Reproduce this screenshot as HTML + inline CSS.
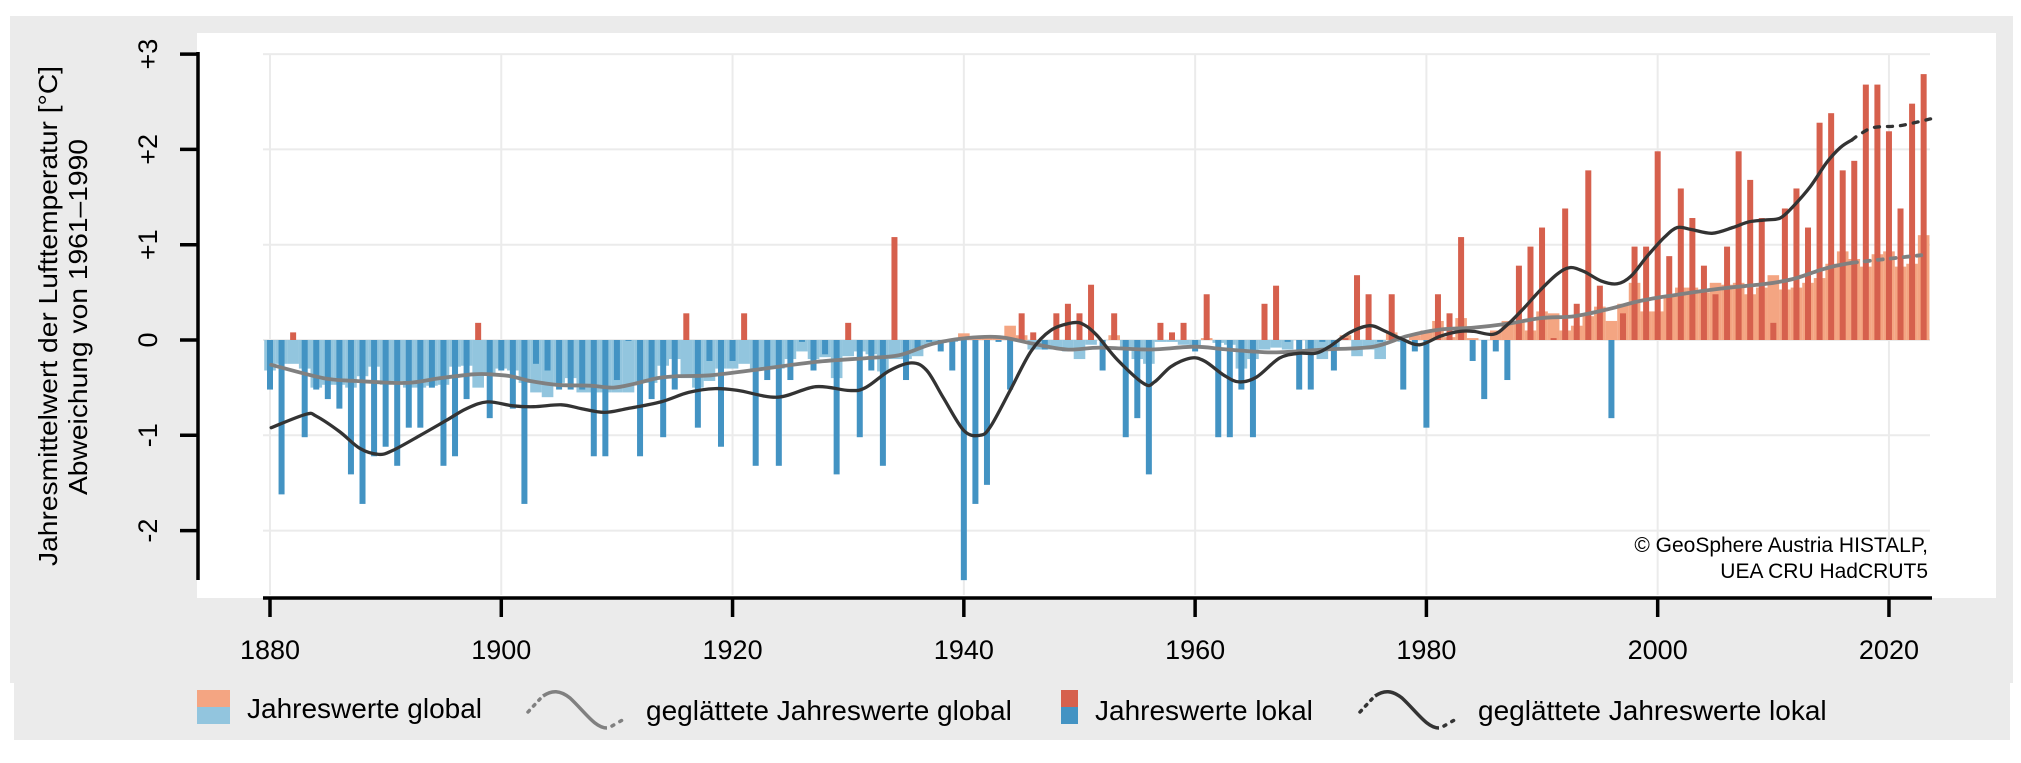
<!DOCTYPE html>
<html><head><meta charset="utf-8">
<style>
html,body{margin:0;padding:0;background:#fff;}
svg{display:block;font-family:"Liberation Sans",Arial,sans-serif;}
</style></head>
<body>
<svg id="c" width="2021" height="763" viewBox="0 0 2021 763" xmlns="http://www.w3.org/2000/svg">
<rect x="10" y="16" width="2003" height="667" fill="#ebebeb"/>
<rect x="14" y="683" width="1996" height="57" fill="#ebebeb"/>
<rect x="197" y="33" width="1799" height="565" fill="#ffffff"/>
<g id="grid" stroke="#ebebeb" stroke-width="2"></g>
<g id="gbars"></g>
<g id="lbars"></g>
<g id="lines" fill="none" stroke-linecap="round" stroke-linejoin="round"></g>
<g id="axes" stroke="#000" stroke-width="3.5" fill="none">
<line x1="198" y1="52" x2="198" y2="580"/>
<line x1="263" y1="598" x2="1932" y2="598"/>
</g>
<g id="ticks" stroke="#000" stroke-width="3.5"></g>
<g id="labels" font-size="27" fill="#000"></g>
<text x="1928" y="552" font-size="21" text-anchor="end" fill="#000">© GeoSphere Austria HISTALP,</text>
<text x="1928" y="578" font-size="21" text-anchor="end" fill="#000">UEA CRU HadCRUT5</text>
<text transform="translate(57,316) rotate(-90)" font-size="26" text-anchor="middle" textLength="500" lengthAdjust="spacingAndGlyphs">Jahresmittelwert der Lufttemperatur [°C]</text>
<text transform="translate(87,317) rotate(-90)" font-size="26" text-anchor="middle" textLength="356" lengthAdjust="spacingAndGlyphs">Abweichung von 1961–1990</text>
<!-- legend -->
<rect x="197" y="690" width="33" height="17" fill="#f4a582"/>
<rect x="197" y="707" width="33" height="17" fill="#92c5de"/>
<text x="247" y="718" font-size="28">Jahreswerte global</text>
<path d="M528,712 L540,699" stroke="#808080" stroke-width="3.5" stroke-dasharray="2 6" stroke-linecap="round" fill="none"/>
<path d="M543,696 C552,690 560,690 570,698 C585,712 595,728 607,728" stroke="#808080" stroke-width="3.5" fill="none"/>
<path d="M612,726 L626,718" stroke="#808080" stroke-width="3.5" stroke-dasharray="2 7" stroke-linecap="round" fill="none"/>
<text x="646" y="720" font-size="28">geglättete Jahreswerte global</text>
<rect x="1061" y="690" width="17" height="17" fill="#d6604d"/>
<rect x="1061" y="707" width="17" height="17" fill="#4393c3"/>
<text x="1095" y="720" font-size="28">Jahreswerte lokal</text>
<path d="M1360,712 L1372,699" stroke="#333" stroke-width="3.5" stroke-dasharray="2 6" stroke-linecap="round" fill="none"/>
<path d="M1375,696 C1384,690 1392,690 1402,698 C1417,712 1427,728 1439,728" stroke="#333" stroke-width="3.5" fill="none"/>
<path d="M1444,726 L1458,718" stroke="#333" stroke-width="3.5" stroke-dasharray="2 7" stroke-linecap="round" fill="none"/>
<text x="1478" y="720" font-size="28">geglättete Jahreswerte lokal</text>
</svg>
<script>
(function(){
var NS="http://www.w3.org/2000/svg";
function X(yr){return 270+11.564*(yr-1880);}
function Y(v){return 340-95.3*v;}
function el(p,t,a,txt){var e=document.createElementNS(NS,t);for(var k in a)e.setAttribute(k,a[k]);if(txt!=null)e.textContent=txt;document.getElementById(p).appendChild(e);return e;}
// grid
for(var v=-2;v<=3;v++){el("grid","line",{x1:263,x2:1930,y1:Y(v),y2:Y(v)});}
for(var yr=1880;yr<=2020;yr+=20){el("grid","line",{x1:X(yr),x2:X(yr),y1:Y(3),y2:595});}
var loc=[-0.52,-1.62,0.08,-1.02,-0.52,-0.62,-0.72,-1.41,-1.72,-1.22,-1.12,-1.32,-0.92,-0.92,-0.5,-1.32,-1.22,-0.62,0.18,-0.82,
-0.32,-0.72,-1.72,-0.25,-0.32,-0.52,-0.52,-0.52,-1.22,-1.22,-0.42,-0.01,-1.22,-0.62,-1.02,-0.52,0.28,-0.92,-0.22,-1.12,
-0.22,0.28,-1.32,-0.42,-1.32,-0.42,-0.02,-0.32,-0.15,-1.41,0.18,-1.02,-0.32,-1.32,1.08,-0.42,-0.1,-0.02,-0.12,-0.32,
-2.52,-1.72,-1.52,-0.02,-0.52,0.28,0.08,-0.1,0.28,0.38,0.28,0.58,-0.32,0.28,-1.02,-0.82,-1.41,0.18,0.08,0.18,
-0.12,0.48,-1.02,-1.02,-0.52,-1.02,0.38,0.57,-0.02,-0.52,-0.52,-0.02,-0.32,0.02,0.68,0.48,-0.02,0.48,-0.52,-0.12,
-0.92,0.48,0.28,1.08,-0.22,-0.62,-0.12,-0.42,0.78,0.98,1.18,0.02,1.38,0.38,1.78,0.57,-0.82,0.28,0.98,0.98,
1.98,0.88,1.59,1.28,0.78,0.48,0.98,1.98,1.68,1.28,0.18,1.38,1.59,1.18,2.28,2.38,1.78,1.88,2.68,2.68,2.19,1.38,2.48,2.79];
var glo=[-0.32,-0.25,-0.25,-0.3,-0.5,-0.47,-0.47,-0.5,-0.38,-0.28,-0.47,-0.43,-0.5,-0.5,-0.48,-0.47,-0.28,-0.27,-0.5,-0.37,
-0.3,-0.32,-0.45,-0.55,-0.6,-0.45,-0.4,-0.55,-0.55,-0.55,-0.55,-0.55,-0.45,-0.45,-0.27,-0.2,-0.4,-0.5,-0.43,-0.3,
-0.3,-0.25,-0.3,-0.3,-0.3,-0.2,-0.12,-0.2,-0.18,-0.4,-0.17,-0.12,-0.15,-0.33,-0.2,-0.2,-0.17,-0.05,-0.03,-0.02,
0.07,0.03,0.02,0.02,0.15,0.05,-0.1,-0.1,-0.1,-0.12,-0.2,-0.05,0.0,0.05,-0.1,-0.2,-0.25,-0.02,-0.02,-0.05,
-0.08,0.02,-0.03,-0.05,-0.3,-0.2,-0.1,-0.08,-0.1,0.0,-0.1,-0.2,-0.1,0.05,-0.17,-0.1,-0.2,0.08,-0.02,0.05,
0.1,0.2,0.03,0.23,0.02,0.0,0.1,0.2,0.2,0.1,0.3,0.28,0.1,0.15,0.25,0.35,0.2,0.38,0.6,0.3,
0.3,0.47,0.55,0.55,0.5,0.6,0.58,0.6,0.48,0.55,0.68,0.53,0.55,0.6,0.65,0.8,0.93,0.85,0.77,0.9,0.93,0.77,0.8,1.1];
var z=Y(0);
for(var i=0;i<glo.length;i++){var v=glo[i],x=X(1880+i)-5.78;
 el("gbars","rect",{x:x,width:11.6,y:v>=0?Y(v):z,height:Math.abs(Y(v)-z),fill:v>=0?"#f4a582":"#92c5de"});}
for(var i=0;i<loc.length;i++){var v=loc[i],x=X(1880+i)-3;
 el("lbars","rect",{x:x,width:6,y:v>=0?Y(v):z,height:Math.abs(Y(v)-z),fill:v>=0?"#d6604d":"#4393c3"});}
function path(pts){var p=pts.map(function(a){return [X(a[0]),Y(a[1])];});
 var d="M"+p[0][0].toFixed(1)+","+p[0][1].toFixed(1);
 for(var i=0;i<p.length-1;i++){var p0=p[i-1]||p[i],p1=p[i],p2=p[i+1],p3=p[i+2]||p2;
  var c1x=p1[0]+(p2[0]-p0[0])/6,c1y=p1[1]+(p2[1]-p0[1])/6,c2x=p2[0]-(p3[0]-p1[0])/6,c2y=p2[1]-(p3[1]-p1[1])/6;
  d+=" C"+c1x.toFixed(1)+","+c1y.toFixed(1)+" "+c2x.toFixed(1)+","+c2y.toFixed(1)+" "+p2[0].toFixed(1)+","+p2[1].toFixed(1);}
 return d;}
var gl=[[1880.1,-0.26],[1884.6,-0.4],[1887.5,-0.43],[1891.8,-0.45],[1894.7,-0.4],[1897.6,-0.36],[1899,-0.36],[1900.8,-0.38],[1902.5,-0.43],[1904.8,-0.47],[1907.7,-0.48],[1909.7,-0.5],[1911.5,-0.46],[1913.5,-0.4],[1915.2,-0.38],[1918.1,-0.37],[1922.2,-0.31],[1927.2,-0.23],[1931.6,-0.19],[1934.4,-0.16],[1937.3,-0.04],[1940.2,0.02],[1943.1,0.03],[1946,-0.04],[1948.9,-0.1],[1951.8,-0.08],[1956.1,-0.1],[1959.9,-0.07],[1962.8,-0.1],[1966.8,-0.13],[1971.1,-0.1],[1975.4,-0.07],[1978.3,0.04],[1981.2,0.11],[1984.1,0.13],[1987,0.17],[1989.9,0.23],[1992.8,0.25],[1995.6,0.32],[1998.5,0.41],[2001.4,0.47],[2005.5,0.54],[2009.4,0.59],[2011.7,0.64],[2013.7,0.72],[2015.1,0.77],[2016.8,0.81]];
var gd=[[2016.8,0.81],[2019,0.84],[2022.8,0.89]];
var ll=[[1880.1,-0.92],[1883.1,-0.78],[1884,-0.8],[1886,-0.96],[1887.8,-1.14],[1889.4,-1.2],[1890.6,-1.16],[1893,-1.0],[1895.3,-0.84],[1897,-0.72],[1898.8,-0.65],[1901,-0.69],[1902.8,-0.7],[1905.2,-0.68],[1906.9,-0.72],[1908.9,-0.76],[1910.9,-0.72],[1913.8,-0.65],[1916.2,-0.55],[1918.5,-0.51],[1920.5,-0.53],[1923.9,-0.6],[1927.2,-0.49],[1930.1,-0.53],[1931.5,-0.5],[1933.6,-0.32],[1935.5,-0.24],[1936.8,-0.32],[1938.2,-0.6],[1940,-0.95],[1941.4,-1.0],[1942.3,-0.91],[1944,-0.53],[1945.8,-0.12],[1947.5,0.1],[1949.4,0.18],[1950.4,0.16],[1951.5,0.05],[1953.3,-0.21],[1955.6,-0.46],[1956.5,-0.44],[1957.9,-0.28],[1959.6,-0.19],[1960.8,-0.22],[1962.5,-0.37],[1963.8,-0.44],[1965.3,-0.39],[1967.3,-0.19],[1969,-0.14],[1970.4,-0.14],[1971.6,-0.07],[1973.4,0.08],[1975.1,0.15],[1976.3,0.1],[1977.7,0.02],[1979.4,-0.05],[1981.2,0.04],[1982.9,0.09],[1984.1,0.09],[1985.8,0.06],[1987,0.16],[1988.4,0.33],[1989.9,0.53],[1991.3,0.69],[1992.4,0.76],[1993.6,0.72],[1995.1,0.62],[1996.5,0.59],[1997.7,0.67],[1999.1,0.88],[2000.6,1.08],[2001.7,1.18],[2002.9,1.16],[2004.7,1.12],[2006.5,1.18],[2007.9,1.24],[2009.4,1.26],[2010.6,1.28],[2011.7,1.4],[2013.2,1.61],[2014.6,1.86],[2015.8,2.02],[2016.8,2.1]];
var ld=[[2016.8,2.1],[2017.5,2.16],[2018.7,2.23],[2021,2.25],[2023.6,2.32]];
el("lines","path",{d:path(gl),stroke:"#808080","stroke-width":3.8});
el("lines","path",{d:path(gd),stroke:"#808080","stroke-width":3.8,"stroke-dasharray":"5 8"});
el("lines","path",{d:path(ll),stroke:"#333333","stroke-width":3.3});
el("lines","path",{d:path(ld),stroke:"#333333","stroke-width":3.3,"stroke-dasharray":"5 8"});
// ticks
var yl={"-2":"-2","-1":"-1","0":"0","1":"+1","2":"+2","3":"+3"};
for(var v=-2;v<=3;v++){el("ticks","line",{x1:180,x2:198,y1:Y(v),y2:Y(v)});
 el("labels","text",{transform:"translate(157,"+Y(v)+") rotate(-90)","text-anchor":"middle"},yl[v]);}
for(var yr=1880;yr<=2020;yr+=20){el("ticks","line",{x1:X(yr),x2:X(yr),y1:598,y2:617});
 el("labels","text",{x:X(yr),y:659,"text-anchor":"middle"},String(yr));}
})();
</script>
</body></html>
